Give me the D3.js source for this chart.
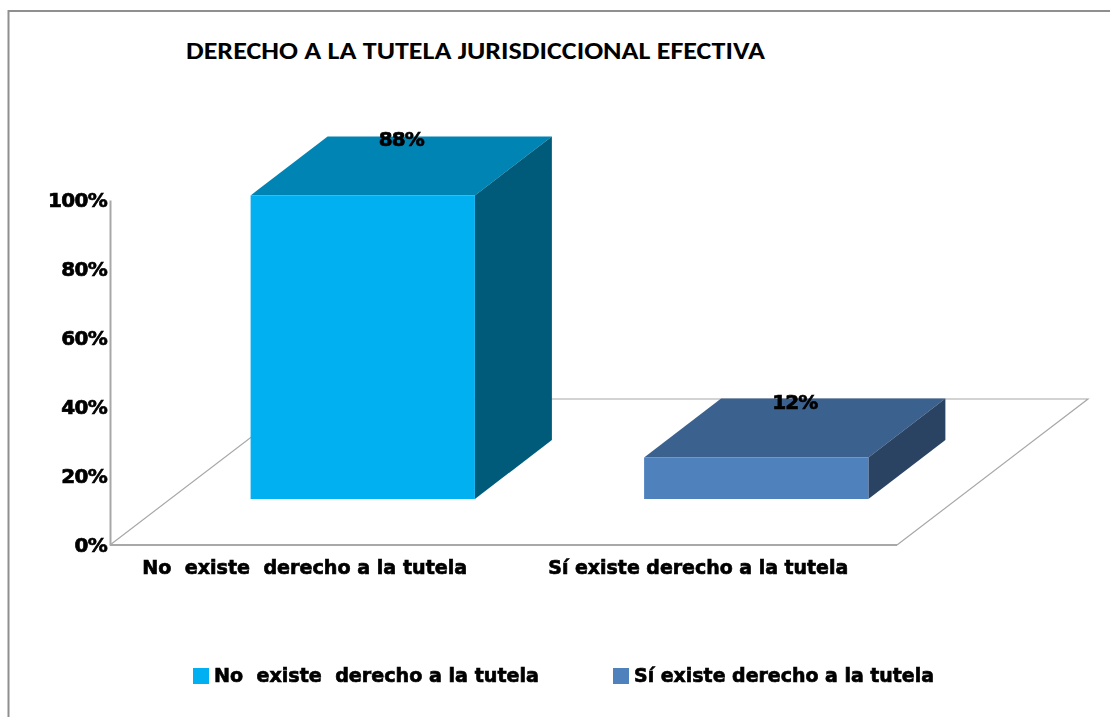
<!DOCTYPE html>
<html><head><meta charset="utf-8">
<script src="https://cdn.jsdelivr.net/npm/d3@7"></script>
<style>
html,body{margin:0;padding:0;background:#fff;overflow:hidden}
svg{display:block}
text{white-space:pre;fill:#000}
.lab{font-family:"DejaVu Sans",sans-serif;font-weight:700;font-size:20px;stroke:#000;stroke-width:.7px;filter:url(#soft)}
</style></head><body>
<svg id="c" width="1110" height="717"><defs><filter id="soft" x="-5%" y="-20%" width="110%" height="140%"><feGaussianBlur stdDeviation="0.45"/></filter></defs></svg>
<script>
const titleText = "DERECHO A LA TUTELA JURISDICCIONAL EFECTIVA";
const categories = ["No  existe  derecho a la tutela", "Sí existe derecho a la tutela"];
const values = [88, 12];
const valueLabels = ["88%", "12%"];
const tickValues = [0, 20, 40, 60, 80, 100];
const frontColors = ["#00B0F0", "#4F81BD"];
const topColors = ["#0084B4", "#3B618E"];
const sideColors = ["#005A7A", "#2A4362"];

const W = 1110, H = 717;
const svg = d3.select("#c");
const floorL = 110, floorR = 897, y0 = 545, y100 = 200;
const depthX = 191, depthY = 146;      // floor depth
const barDX = 77, barDY = 59;          // bar depth
const barOffX = 56, barBase = 499;

const y = d3.scaleLinear().domain([0, 100]).range([y0, y100]);
const x = d3.scaleBand().domain(categories).range([floorL, floorR]).paddingInner(0.43).paddingOuter(0.215);
const h = v => y(0) - y(v);

// chart border
svg.append("rect").attr("x", 8.5).attr("y", 11).attr("width", W + 10).attr("height", H + 10)
  .attr("fill", "#fff").attr("stroke", "#8f8f8f").attr("stroke-width", 2);

// title
svg.append("text").attr("x", 186).attr("y", 59).text(titleText)
  .attr("font-family", "Carlito, Lato, sans-serif").attr("font-weight", 700).attr("font-size", 24)
  .attr("textLength", 579).attr("lengthAdjust", "spacingAndGlyphs");

// floor
const floorPath = d3.path();
floorPath.moveTo(floorL, y0); floorPath.lineTo(floorL + depthX, y0 - depthY);
floorPath.lineTo(floorR + depthX, y0 - depthY); floorPath.lineTo(floorR, y0);
svg.append("path").attr("d", floorPath.toString()).attr("fill", "none").attr("stroke", "#a8a8a8").attr("stroke-width", 1.2);

// axes
const axisG = svg.append("g").attr("transform", `translate(${floorL},0)`)
  .call(d3.axisLeft(y).tickValues(tickValues).tickSize(0).tickPadding(3).tickFormat(d => d + "%"));
axisG.select(".domain").attr("stroke", "#a8a8a8").attr("stroke-width", 2);
axisG.selectAll("text").attr("class", "lab").attr("font-family", null).attr("font-size", null)
  .attr("letter-spacing", -0.7).attr("dy", "0.33em");

svg.append("line").attr("x1", floorL).attr("x2", floorR).attr("y1", y0).attr("y2", y0)
  .attr("stroke", "#a8a8a8").attr("stroke-width", 2);

// bars
categories.forEach((c, i) => {
  const l = x(c) + barOffX, r = l + x.bandwidth(), t = barBase - h(values[i]), b = barBase;
  const g = svg.append("g");
  const poly = (pts, f) => g.append("polygon").attr("points", pts.map(p => p.join(",")).join(" ")).attr("fill", f);
  poly([[l, t], [l + barDX, t - barDY], [r + barDX, t - barDY], [r, t]], topColors[i]);
  poly([[r, t], [r + barDX, t - barDY], [r + barDX, b - barDY], [r, b]], sideColors[i]);
  poly([[l, t], [r, t], [r, b], [l, b]], frontColors[i]);
  svg.append("text").attr("class", "lab").attr("x", (l + r) / 2 + barDX / 2).attr("y", t - barDY + 10)
    .attr("text-anchor", "middle").attr("letter-spacing", -1).text(valueLabels[i]);
});

// category labels
categories.forEach((c, i) => {
  svg.append("text").attr("class", "lab").attr("x", x(c) + x.bandwidth() / 2 - 2).attr("y", 574)
    .attr("text-anchor", "middle").attr("textLength", i ? 300 : 325).attr("lengthAdjust", "spacingAndGlyphs").text(c);
});

// legend
const legendX = [193, 613], legendLen = [325, 300];
categories.forEach((c, i) => {
  svg.append("rect").attr("x", legendX[i]).attr("y", 668).attr("width", 16).attr("height", 16).attr("fill", frontColors[i]);
  svg.append("text").attr("class", "lab").attr("x", legendX[i] + 21).attr("y", 682)
    .attr("textLength", legendLen[i]).attr("lengthAdjust", "spacingAndGlyphs").text(c);
});
</script>
</body></html>
